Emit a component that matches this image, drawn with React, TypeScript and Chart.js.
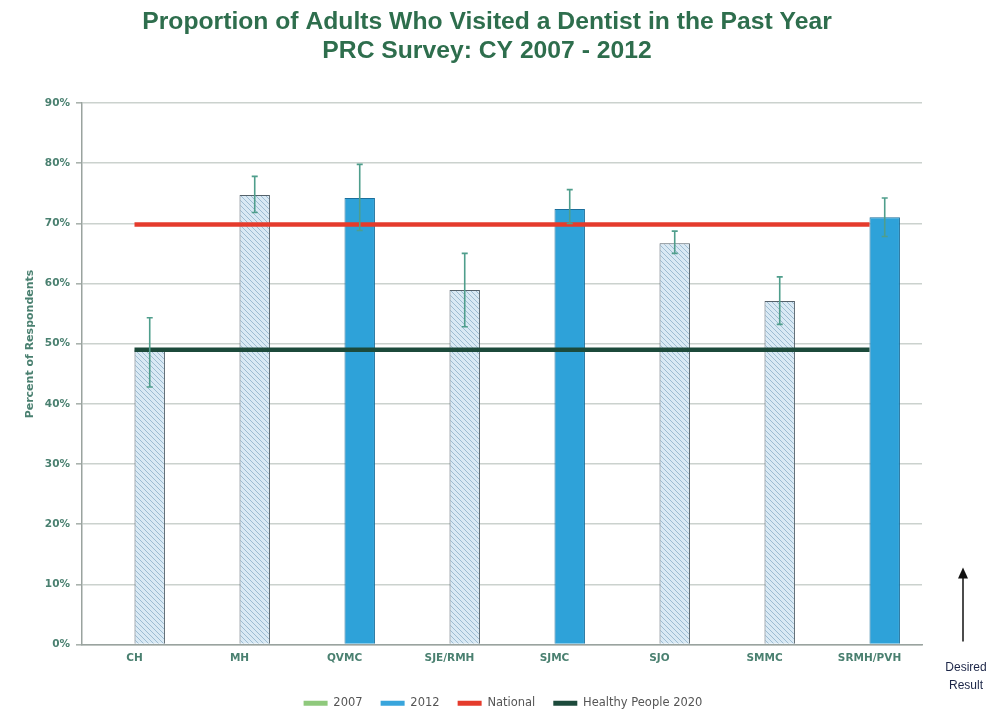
import React, { useEffect, useRef } from 'react';
import { Chart, registerables } from 'chart.js';

Chart.register(...registerables);

const categories = ['CH', 'MH', 'QVMC', 'SJE/RMH', 'SJMC', 'SJO', 'SMMC', 'SRMH/PVH'];
const values2007 = [49.0, 74.7, null, 58.9, null, 66.7, 57.1, null];
const values2012 = [null, null, 74.2, null, 72.4, null, null, 71.0];
const errLow = [42.8, 71.8, 68.8, 52.8, 70.0, 65.0, 53.2, 67.8];
const errHigh = [54.3, 77.8, 79.8, 65.0, 75.6, 68.7, 61.1, 74.2];
const national = [69.8, 69.8, 69.8, 69.8, 69.8, 69.8, 69.8, 69.8];
const healthyPeople2020 = [49.0, 49.0, 49.0, 49.0, 49.0, 49.0, 49.0, 49.0];
const yMin = 0;
const yMax = 90;
const yStep = 10;
const titleLines = ['Proportion of Adults Who Visited a Dentist in the Past Year', 'PRC Survey: CY 2007 - 2012'];
const yAxisTitle = 'Percent of Respondents';
const noteLines = ['Desired', 'Result'];

const TICK_COLOR = '#4a8070';
const TICK_FONT = { family: "'DejaVu Sans', Verdana, sans-serif", size: 10.5, weight: 'bold' as const };

function makeHatch(): CanvasPattern | string {
  const c = document.createElement('canvas');
  c.width = 5;
  c.height = 5;
  const g = c.getContext('2d');
  if (!g) return '#d4e6f2';
  g.fillStyle = '#d9e9f4';
  g.fillRect(0, 0, 5, 5);
  g.strokeStyle = '#9dbcd2';
  g.lineWidth = 1;
  g.beginPath();
  g.moveTo(-1, -1);
  g.lineTo(6, 6);
  g.moveTo(-1, 4);
  g.lineTo(1, 6);
  g.moveTo(4, -1);
  g.lineTo(6, 1);
  g.stroke();
  const p = g.createPattern(c, 'repeat');
  return p || '#d4e6f2';
}

const errorBarPlugin = {
  id: 'errorBars',
  afterDatasetsDraw(chart: any) {
    const ctx = chart.ctx;
    const yScale = chart.scales.y;
    ctx.save();
    ctx.strokeStyle = '#4f9e8c';
    ctx.lineWidth = 1.6;
    [1, 2].forEach((di) => {
      const meta = chart.getDatasetMeta(di);
      const data = chart.data.datasets[di].data;
      meta.data.forEach((el: any, i: number) => {
        if (data[i] == null) return;
        const x = el.x;
        const yt = yScale.getPixelForValue(errHigh[i]);
        const yb = yScale.getPixelForValue(errLow[i]);
        ctx.beginPath();
        ctx.moveTo(x, yt);
        ctx.lineTo(x, yb);
        ctx.moveTo(x - 3, yt);
        ctx.lineTo(x + 3, yt);
        ctx.moveTo(x - 3, yb);
        ctx.lineTo(x + 3, yb);
        ctx.stroke();
      });
    });
    ctx.restore();
  },
};

const extrasPlugin = {
  id: 'extras',
  afterDraw(chart: any) {
    const ctx = chart.ctx;
    const area = chart.chartArea;

    // title
    ctx.save();
    ctx.fillStyle = '#2e6e4d';
    ctx.font = "bold 24.7px 'Liberation Sans', Arial, sans-serif";
    ctx.textAlign = 'center';
    ctx.textBaseline = 'middle';
    ctx.fillText(titleLines[0], 487, 22);
    ctx.fillText(titleLines[1], 487, 51);
    ctx.restore();

    // y axis title
    ctx.save();
    ctx.fillStyle = TICK_COLOR;
    ctx.font = "bold 11px 'DejaVu Sans', Verdana, sans-serif";
    ctx.textAlign = 'center';
    ctx.textBaseline = 'middle';
    ctx.translate(30, 344);
    ctx.rotate(-Math.PI / 2);
    ctx.fillText(yAxisTitle, 0, 0);
    ctx.restore();

    // Desired result arrow
    ctx.save();
    const ax = area.right + 41;
    const yb = area.bottom - 3;
    const yt = area.bottom - 77;
    ctx.strokeStyle = '#111';
    ctx.fillStyle = '#111';
    ctx.lineWidth = 1.5;
    ctx.beginPath();
    ctx.moveTo(ax, yb);
    ctx.lineTo(ax, yt + 10);
    ctx.stroke();
    ctx.beginPath();
    ctx.moveTo(ax, yt);
    ctx.lineTo(ax - 5, yt + 11);
    ctx.lineTo(ax + 5, yt + 11);
    ctx.closePath();
    ctx.fill();
    ctx.fillStyle = '#1b2547';
    ctx.font = "12px 'Liberation Sans', Arial, sans-serif";
    ctx.textAlign = 'center';
    ctx.textBaseline = 'middle';
    ctx.fillText(noteLines[0], ax + 3, area.bottom + 23);
    ctx.fillText(noteLines[1], ax + 3, area.bottom + 41);
    ctx.restore();
  },
};

export default function App() {
  const ref = useRef<HTMLCanvasElement | null>(null);

  useEffect(() => {
    document.body.style.margin = '0';
    const canvas = ref.current;
    if (!canvas) return;
    const hatch = makeHatch();
    const legendDefs = [
      { text: '2007', color: '#8fc97c' },
      { text: '2012', color: '#39a5dc' },
      { text: 'National', color: '#e53b2c' },
      { text: 'Healthy People 2020', color: '#1c4a3b' },
    ];
    const chart = new Chart(canvas, {
      type: 'bar',
      data: {
        labels: categories,
        datasets: [
          {
            label: 'pad',
            data: categories.map(() => null),
            stack: 'pad',
            backgroundColor: 'rgba(0,0,0,0)',
          },
          {
            label: '2007',
            data: values2007,
            stack: 'bars',
            backgroundColor: hatch as any,
            borderColor: '#55626b',
            borderWidth: 1,
          },
          {
            label: '2012',
            data: values2012,
            stack: 'bars',
            backgroundColor: '#2ea2d9',
            borderColor: '#1b6f9c',
            borderWidth: 1,
          },
          {
            type: 'line' as any,
            label: 'National',
            data: national,
            borderColor: '#e53b2c',
            borderWidth: 4.5,
            pointRadius: 0,
            order: -1,
          } as any,
          {
            type: 'line' as any,
            label: 'Healthy People 2020',
            data: healthyPeople2020,
            borderColor: '#1c4a3b',
            borderWidth: 4.5,
            pointRadius: 0,
            order: -1,
          } as any,
        ],
      },
      options: {
        responsive: false,
        animation: false,
        devicePixelRatio: 1,
        categoryPercentage: 0.58,
        barPercentage: 1,
        layout: { padding: { left: 12, right: 0, top: 103, bottom: -3 } },
        plugins: {
          tooltip: { enabled: false },
          title: { display: false },
          legend: {
            position: 'bottom',
            labels: {
              boxWidth: 24,
              boxHeight: 5,
              padding: 18,
              color: '#555',
              font: { family: "'DejaVu Sans', Verdana, sans-serif", size: 11.5 },
              generateLabels: () =>
                legendDefs.map((d, i) => ({
                  text: d.text,
                  fillStyle: d.color,
                  strokeStyle: d.color,
                  lineWidth: 0,
                  hidden: false,
                  datasetIndex: i + 1,
                  fontColor: '#555',
                })),
            },
            onClick: () => {},
          },
        },
        scales: {
          x: {
            offset: true,
            grid: { display: false, drawTicks: false },
            border: { display: true, color: '#9aa39f', width: 1.5 },
            ticks: { color: TICK_COLOR, font: TICK_FONT, padding: 7 },
            afterFit: (s: any) => {
              s.height = 35;
            },
          },
          y: {
            min: yMin,
            max: yMax,
            ticks: {
              stepSize: yStep,
              color: TICK_COLOR,
              font: TICK_FONT,
              padding: 6,
              callback: (v: any) => v + '%',
            },
            grid: { color: '#cbd2ce', lineWidth: 1.6, tickLength: 6, tickColor: '#aab3ae' },
            border: { display: true, color: '#9aa39f', width: 1.5 },
            afterFit: (s: any) => {
              s.width = 70;
            },
          },
          yR: {
            type: 'linear',
            position: 'right',
            display: true,
            min: 0,
            max: 1,
            grid: { display: false, drawTicks: false },
            border: { display: false },
            ticks: { display: false },
            afterFit: (s: any) => {
              s.width = 72;
            },
          },
        },
      },
      plugins: [errorBarPlugin, extrasPlugin],
    } as any);
    return () => chart.destroy();
  }, []);

  return (
    <div style={{ position: 'absolute', left: 0, top: 0, width: 994, height: 716, background: '#fff' }}>
      <canvas ref={ref} width={994} height={716} />
    </div>
  );
}
